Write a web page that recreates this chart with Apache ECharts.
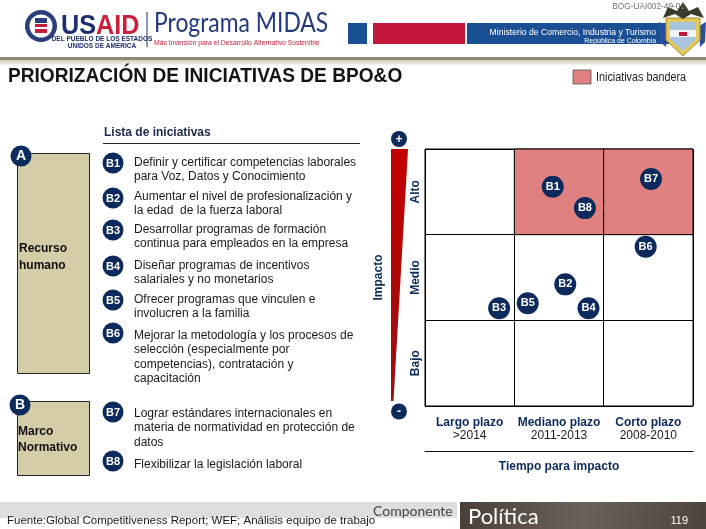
<!DOCTYPE html>
<html><head><meta charset="utf-8">
<script src="https://cdn.jsdelivr.net/npm/echarts@6/dist/echarts.min.js"></script>
<style>html,body{margin:0;padding:0;background:#fff}#c{width:706px;height:529px}</style>
</head><body><div id="c"></div>
<script>
// ---- data ----
const initiativeIds = ['B1','B2','B3','B4','B5','B6','B7','B8'];
const timeToImpact = [1.43, 1.57, 0.83, 1.83, 1.15, 2.47, 2.53, 1.79];
const impactLevel  = [2.56, 1.42, 1.14, 1.14, 1.20, 1.86, 2.65, 2.31];
const timeLabels = ['Largo plazo|>2014', 'Mediano plazo|2011-2013', 'Corto plazo|2008-2010'];
const impactLabels = ['Bajo', 'Medio', 'Alto'];
const flagshipCells = [[1, 2, 2, 3], [2, 3, 2, 3]];
const initiativeTexts = [
  'Definir y certificar competencias laborales\npara Voz, Datos y Conocimiento',
  'Aumentar el nivel de profesionalización y\nla edad  de la fuerza laboral',
  'Desarrollar programas de formación\ncontinua para empleados en la empresa',
  'Diseñar programas de incentivos\nsalariales y no monetarios',
  'Ofrecer programas que vinculen e\ninvolucren a la familia',
  'Mejorar la metodología y los procesos de\nselección (especialmente por\ncompetencias), contratación y\ncapacitación',
  'Lograr estándares internacionales en\nmateria de normatividad en protección de\ndatos',
  'Flexibilizar la legislación laboral'
];

const NAVY = '#0c2a5c';
const PINK = '#e08080';
const FF = '"Liberation Sans", Arial, sans-serif';

const chart = echarts.init(document.getElementById('c'));

const listCircleY = [163, 198, 230, 266, 300, 333, 412, 461];
const listTextY = [155, 189, 222, 258, 292, 328, 406, 457];

const g = [];
function txt(x, y, text, o) {
  o = o || {};
  const el = {type: 'text', x: x, y: y, z: o.z || 10,
    style: {text: text, fill: o.color || '#1a1a1a', fontSize: o.size || 12, fontWeight: o.bold ? 'bold' : 'normal',
      fontFamily: o.family || FF, align: o.align || 'left', verticalAlign: o.va || 'middle', lineHeight: o.lh, rich: o.rich}};
  if (o.scaleX) el.scaleX = o.scaleX;
  if (o.rotation) el.rotation = o.rotation;
  g.push(el);
}
function badge(cx, cy, r, label, size) {
  g.push({type: 'circle', z: 11, shape: {cx: cx, cy: cy, r: r}, style: {fill: NAVY}});
  txt(cx, cy + 0.5, label, {color: '#fff', bold: true, size: size || 11, align: 'center', z: 12});
}

// header
g.push({type: 'circle', shape: {cx: 41, cy: 26, r: 16}, style: {fill: '#2b3f7c'}});
g.push({type: 'circle', shape: {cx: 41, cy: 26, r: 11.5}, style: {fill: '#fff'}});
g.push({type: 'rect', shape: {x: 35, y: 18, width: 12, height: 5}, style: {fill: '#2b3f7c'}});
g.push({type: 'rect', shape: {x: 35, y: 24, width: 12, height: 9}, style: {fill: '#c41e3a'}});
g.push({type: 'rect', shape: {x: 35, y: 27, width: 12, height: 2}, style: {fill: '#fff'}});
txt(61, 26, '{a|US}{b|AID}', {rich: {a: {fontSize: 28, fontWeight: 'bold', fill: '#1f2f6e', fontFamily: FF}, b: {fontSize: 28, fontWeight: 'bold', fill: '#c8203d', fontFamily: FF}}, scaleX: 0.9});
txt(102, 39.5, 'DEL PUEBLO DE LOS ESTADOS', {size: 6.5, bold: true, color: '#1f2f6e', align: 'center'});
txt(102, 46, 'UNIDOS DE AMÉRICA', {size: 6.5, bold: true, color: '#1f2f6e', align: 'center'});
g.push({type: 'line', shape: {x1: 147, y1: 12, x2: 147, y2: 47}, style: {stroke: '#1f2f6e', lineWidth: 1}});
txt(154, 24, 'Programa MIDAS', {size: 26, color: '#24397a', family: 'Lato, "Open Sans", sans-serif', scaleX: 0.88});
txt(154, 43, 'Más Inversión para el Desarrollo Alternativo Sostenible', {size: 6.8, color: '#c8203d'});
g.push({type: 'rect', shape: {x: 348, y: 23, width: 19, height: 21}, style: {fill: '#1b4f93'}});
g.push({type: 'rect', shape: {x: 373, y: 23, width: 92, height: 21}, style: {fill: '#c2163a'}});
g.push({type: 'rect', shape: {x: 467, y: 23, width: 208, height: 21}, style: {fill: '#1b4f93'}});
g.push({type: 'text', x: 656, y: 32.5, scaleX: 0.91, z: 10, style: {text: 'Ministerio de Comercio, Industria y Turismo', fill: '#fff', fontSize: 9.5, fontFamily: FF, align: 'right', verticalAlign: 'middle'}});
g.push({type: 'text', x: 656, y: 40.5, scaleX: 0.95, z: 10, style: {text: 'República de Colombia', fill: '#fff', fontSize: 7.3, fontFamily: FF, align: 'right', verticalAlign: 'middle'}});
g.push({type: 'text', x: 685, y: 7, scaleX: 0.92, z: 10, style: {text: 'BOG-UAI002-49-01', fill: '#707070', fontSize: 9, fontFamily: FF, align: 'right', verticalAlign: 'middle'}});
// coat of arms
g.push({type: 'polygon', shape: {points: [[659, 22], [667, 26], [666, 47], [660, 42]]}, style: {fill: '#2b4f9a'}});
g.push({type: 'polygon', shape: {points: [[706, 22], [699, 26], [700, 47], [705, 42]]}, style: {fill: '#2b4f9a'}});
g.push({type: 'polygon', shape: {points: [[666, 18], [700, 18], [700, 40], [683, 56], [666, 40]]}, style: {fill: '#e2c95e', stroke: '#a88a22', lineWidth: 1}});
g.push({type: 'polygon', shape: {points: [[670, 22], [696, 22], [696, 39], [683, 51], [670, 39]]}, style: {fill: '#a9c4df'}});
g.push({type: 'rect', shape: {x: 670, y: 30, width: 26, height: 7}, style: {fill: '#f4f4f4'}});
g.push({type: 'rect', shape: {x: 679, y: 32, width: 8, height: 4}, style: {fill: '#c2163a'}});
g.push({type: 'polygon', shape: {points: [[663, 18], [668, 7], [677, 11], [683, 2], [689, 11], [698, 7], [704, 18], [691, 14], [683, 19], [675, 14]]}, style: {fill: '#3b3a2c'}});
// header rule
g.push({type: 'rect', shape: {x: 0, y: 57, width: 706, height: 3}, style: {fill: '#8f8a72'}});
g.push({type: 'rect', shape: {x: 0, y: 60, width: 706, height: 6}, style: {fill: new echarts.graphic.LinearGradient(0, 0, 0, 1, [{offset: 0, color: '#cfcbbb'}, {offset: 1, color: '#ffffff'}])}});

// title + legend
txt(8, 76.5, 'PRIORIZACIÓN DE INICIATIVAS DE BPO&O', {size: 21, bold: true, color: '#141414', scaleX: 0.91});
g.push({type: 'rect', shape: {x: 573, y: 70, width: 18, height: 14}, style: {fill: PINK, stroke: '#555', lineWidth: 0.8}});
txt(596, 77.5, 'Iniciativas bandera', {size: 12, color: '#1a1a1a', scaleX: 0.9});

// list
txt(104, 133, 'Lista de iniciativas', {size: 12, bold: true, color: '#1c2846'});
g.push({type: 'line', shape: {x1: 103, y1: 143.5, x2: 360, y2: 143.5}, style: {stroke: '#222', lineWidth: 1}});
g.push({type: 'rect', shape: {x: 17.5, y: 153.5, width: 72, height: 220}, style: {fill: '#d5cda8', stroke: '#222', lineWidth: 1}});
g.push({type: 'rect', shape: {x: 17.5, y: 401.5, width: 72, height: 74}, style: {fill: '#d5cda8', stroke: '#222', lineWidth: 1}});
badge(21, 156, 10.5, 'A', 14);
badge(20, 405, 10.5, 'B', 14);
txt(19, 248.5, 'Recurso', {size: 12, bold: true, color: '#111'});
txt(19, 265.5, 'humano', {size: 12, bold: true, color: '#111'});
txt(18, 432, 'Marco', {size: 12, bold: true, color: '#111'});
txt(18, 447.5, 'Normativo', {size: 12, bold: true, color: '#111'});
initiativeIds.forEach(function (id, i) {
  badge(113, listCircleY[i], 10.5, id, 11);
  txt(134, listTextY[i], initiativeTexts[i], {size: 12, va: 'top', lh: 14.6, color: '#1a1a1a'});
});

// impact wedge
g.push({type: 'polygon', shape: {points: [[391, 149], [408, 149], [393.5, 401], [391, 401]]}, style: {fill: new echarts.graphic.LinearGradient(0, 0, 0, 1, [{offset: 0, color: '#c40000'}, {offset: 1, color: '#9a1010'}])}});
badge(399, 139, 8, '+', 12);
badge(399, 411.5, 8, '-', 12);

// footer
g.push({type: 'rect', shape: {x: 0, y: 502, width: 457, height: 16}, style: {fill: '#dedede'}});
g.push({type: 'rect', shape: {x: 460, y: 502, width: 246, height: 27}, style: {fill: new echarts.graphic.LinearGradient(0, 0, 1, 1, [{offset: 0, color: '#4a3f39'}, {offset: 0.5, color: '#6b605a'}, {offset: 1, color: '#4e433d'}])}});
txt(7, 521, 'Fuente:Global Competitiveness Report; WEF; Análisis equipo de trabajo', {size: 11.5, color: '#1a1a1a'});
txt(373, 511.5, 'Componente', {size: 14, color: '#444', family: 'Lato, sans-serif'});
txt(468, 517, 'Política', {size: 22, color: '#fff', family: 'Lato, sans-serif'});
txt(688, 520.5, '119', {size: 11, color: '#fff', align: 'right'});

const scatterData = initiativeIds.map(function (id, i) { return {name: id, value: [timeToImpact[i], impactLevel[i]]}; });

chart.setOption({
  animation: false,
  backgroundColor: '#fff',
  grid: {left: 425, right: 13, top: 149, bottom: 123, show: true, borderColor: '#000', borderWidth: 1, backgroundColor: 'transparent'},
  xAxis: [
    {type: 'value', min: 0, max: 3, interval: 1, axisLine: {show: false}, axisTick: {show: false}, axisLabel: {show: false},
      splitLine: {show: true, lineStyle: {color: '#000', width: 1}}},
    {type: 'category', data: timeLabels, position: 'bottom', offset: 45, boundaryGap: true,
      axisLine: {show: true, lineStyle: {color: '#111', width: 1.2}}, axisTick: {show: false},
      axisLabel: {inside: true, interval: 0, margin: 9, lineHeight: 13, hideOverlap: false,
        formatter: function (v) { const p = v.split('|'); return '{b|' + p[0] + '}\n{r|' + p[1] + '}'; },
        rich: {b: {fontSize: 12, fontWeight: 'bold', color: NAVY, fontFamily: FF, lineHeight: 13},
               r: {fontSize: 12, color: '#1a1a1a', fontFamily: FF, lineHeight: 13}}},
      name: 'Tiempo para impacto', nameLocation: 'middle', nameGap: 10,
      nameTextStyle: {fontSize: 12, fontWeight: 'bold', color: NAVY, fontFamily: FF}}
  ],
  yAxis: [
    {type: 'value', min: 0, max: 3, interval: 1, axisLine: {show: false}, axisTick: {show: false}, axisLabel: {show: false},
      splitLine: {show: true, lineStyle: {color: '#000', width: 1}}},
    {type: 'category', data: impactLabels, position: 'left', boundaryGap: true,
      axisLine: {show: false}, axisTick: {show: false},
      axisLabel: {rotate: 90, interval: 0, margin: 3, fontSize: 12, fontWeight: 'bold', color: NAVY, fontFamily: FF},
      name: 'Impacto', nameLocation: 'middle', nameRotate: 90, nameGap: 40,
      nameTextStyle: {fontSize: 12, fontWeight: 'bold', color: NAVY, fontFamily: FF}}
  ],
  series: [{
    type: 'scatter', xAxisIndex: 0, yAxisIndex: 0, data: scatterData, symbolSize: 22, z: 5,
    itemStyle: {color: NAVY, opacity: 1},
    label: {show: true, position: 'inside', formatter: '{b}', color: '#fff', fontWeight: 'bold', fontSize: 11, fontFamily: FF},
    markArea: {silent: true, itemStyle: {color: PINK, borderColor: '#000', borderWidth: 1, opacity: 1},
      data: flagshipCells.map(function (c) { return [{xAxis: c[0], yAxis: c[2]}, {xAxis: c[1], yAxis: c[3]}]; })}
  }],
  graphic: g
});
</script></body></html>
